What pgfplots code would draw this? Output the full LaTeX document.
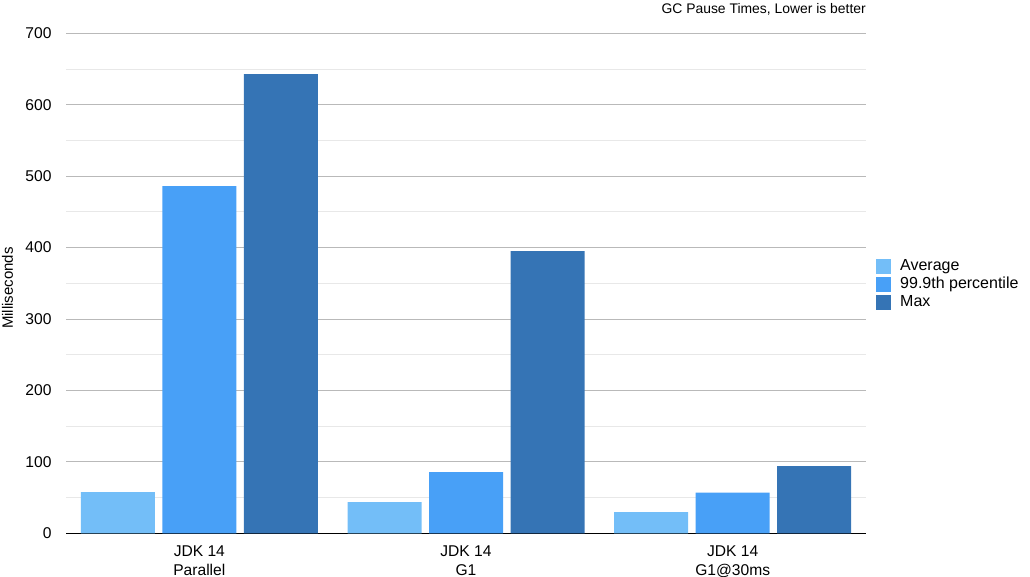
\documentclass[border=0pt]{standalone}
\usepackage{pgfplots}
\pgfplotsset{compat=1.18}
\usepackage{fontspec}
\setmainfont{Liberation Sans}
\definecolor{cAvg}{RGB}{115,190,248}
\definecolor{cP}{RGB}{72,160,247}
\definecolor{cMax}{RGB}{53,116,181}
\definecolor{gmaj}{RGB}{185,185,185}
\definecolor{gmin}{RGB}{232,232,232}
\begin{document}
\begin{tikzpicture}
\useasboundingbox (0,0) rectangle (1030bp,577bp);
\begin{axis}[
  at={(66bp,43.7bp)}, anchor=south west,
  scale only axis, width=800bp, height=500bp,
  ybar=7.5bp, bar width=74bp,
  xmin=-0.5, xmax=2.5, ymin=0, ymax=700,
  xtick={0,1,2},
  xticklabels={{JDK 14\\Parallel},{JDK 14\\G1},{JDK 14\\G1@30ms}},
  ytick={0,100,...,700},
  minor y tick num=1,
  ymajorgrids, yminorgrids,
  major grid style={gmaj, line width=0.8bp},
  minor grid style={gmin, line width=0.8bp},
  major tick length=0, minor tick length=0,
  axis x line=bottom, axis y line=left,
  x axis line style={-, black, line width=1bp},
  y axis line style={draw=none},
  /pgf/number format/assume math mode=true,
  yticklabel style={font=\fontsize{15.6bp}{18bp}\selectfont, anchor=east, xshift=-11bp},
  xticklabel style={font=\fontsize{15.6bp}{19bp}\selectfont, align=center, anchor=north, yshift=-9bp},
  legend style={at={(rel axis cs:1,0.5)}, anchor=west, xshift=10bp, yshift=-1bp, draw=none, fill=none, inner sep=0pt,
    font=\fontsize{16bp}{18bp}\selectfont,
    nodes={inner sep=0pt, text height=12bp, text depth=4bp},
    row sep=2bp, column sep=9bp},
  legend cell align=left,
  legend image code/.code={\fill[#1] (0bp,-7.5bp) rectangle (15bp,7.5bp);},
]
\addplot[fill=cAvg, draw=none] coordinates {(0,57.8) (1,43.8) (2,29.8)};
\addplot[fill=cP, draw=none] coordinates {(0,486) (1,85.8) (2,56.9)};
\addplot[fill=cMax, draw=none] coordinates {(0,643) (1,395.2) (2,94.2)};
\legend{Average, 99.9th percentile, Max}
\end{axis}
\node[anchor=base east, inner sep=0pt, font=\fontsize{13.9bp}{16bp}\selectfont] at (866bp,563bp) {GC Pause Times, Lower is better};
\node[rotate=90, anchor=center, inner sep=0pt, font=\fontsize{15bp}{18bp}\selectfont] at (7.5bp,289bp) {Milliseconds};
\end{tikzpicture}
\end{document}
